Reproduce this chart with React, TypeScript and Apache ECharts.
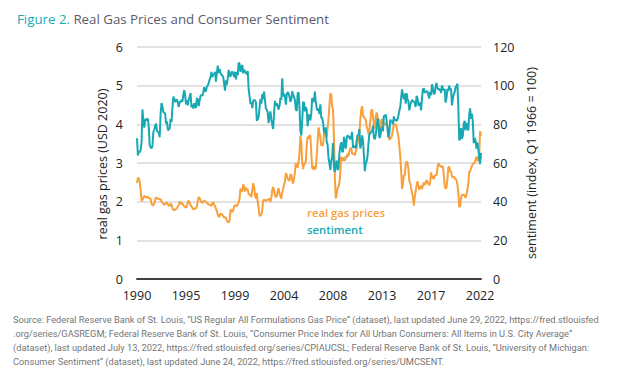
import React, { useEffect, useRef } from "react";
import * as echarts from "echarts";

// Monthly observations, September 1990 – April 2022
const startYear = 1990;
const startMonth = 9;

const xTickLabels = ["1990", "1995", "1999", "2004", "2008", "2013", "2017", "2022"];
const tickEvery = 54;

// real gas prices, USD 2020 per gallon
const gasPrice = [
  2.48, 2.62, 2.60, 2.52,
  2.30, 2.02, 2.05, 2.10, 2.15, 2.14, 2.10, 2.12, 2.12, 2.08, 2.10, 2.07,
  1.95, 1.91, 1.91, 1.94, 2.05, 2.11, 2.10, 2.07, 2.07, 2.06, 2.06, 2.01,
  1.97, 1.95, 1.92, 1.94, 1.97, 1.97, 1.93, 1.90, 1.88, 1.95, 1.92, 1.84,
  1.78, 1.80, 1.78, 1.81, 1.83, 1.88, 1.92, 2.00, 1.99, 1.94, 1.95, 1.92,
  1.88, 1.86, 1.85, 1.89, 1.99, 2.03, 1.97, 1.91, 1.88, 1.84, 1.80, 1.81,
  1.83, 1.82, 1.88, 2.02, 2.12, 2.09, 2.04, 1.98, 1.97, 1.98, 2.03, 2.01,
  1.99, 1.98, 1.94, 1.93, 1.92, 1.92, 1.88, 1.95, 1.99, 1.93, 1.88, 1.82,
  1.75, 1.67, 1.61, 1.62, 1.69, 1.69, 1.66, 1.62, 1.59, 1.60, 1.58, 1.51,
  1.48, 1.46, 1.50, 1.78, 1.79, 1.73, 1.78, 1.88, 1.91, 1.90, 1.88, 1.93,
  1.98, 2.08, 2.34, 2.28, 2.26, 2.45, 2.39, 2.26, 2.36, 2.32, 2.31, 2.20,
  2.18, 2.18, 2.12, 2.29, 2.48, 2.38, 2.16, 2.08, 2.22, 1.99, 1.85, 1.62,
  1.66, 1.65, 1.80, 2.03, 2.05, 2.02, 2.03, 2.04, 2.04, 2.07, 2.07, 1.99,
  2.10, 2.30, 2.38, 2.30, 2.16, 2.12, 2.14, 2.27, 2.35, 2.22, 2.14, 2.08,
  2.23, 2.33, 2.44, 2.53, 2.74, 2.68, 2.60, 2.56, 2.54, 2.70, 2.70, 2.55,
  2.47, 2.59, 2.75, 3.00, 2.93, 2.88, 3.03, 3.25, 3.70, 3.55, 3.02, 2.84,
  2.98, 2.97, 3.07, 3.48, 3.68, 3.63, 3.72, 3.70, 3.26, 2.88, 2.84, 2.92,
  2.84, 2.87, 3.20, 3.54, 3.92, 3.79, 3.67, 3.45, 3.47, 3.46, 3.78, 3.70,
  3.72, 3.68, 3.91, 4.15, 4.50, 4.80, 4.78, 4.46, 4.38, 3.63, 2.59, 2.08,
  2.20, 2.35, 2.38, 2.49, 2.74, 3.16, 3.05, 3.14, 3.07, 3.06, 3.18, 3.13,
  3.25, 3.17, 3.30, 3.38, 3.39, 3.24, 3.24, 3.24, 3.20, 3.30, 3.37, 3.53,
  3.64, 3.75, 4.12, 4.37, 4.47, 4.22, 4.18, 4.16, 4.12, 3.94, 3.87, 3.75,
  3.86, 4.07, 4.35, 4.39, 4.20, 3.99, 3.89, 4.18, 4.31, 4.20, 3.88, 3.71,
  3.73, 4.10, 4.14, 3.95, 4.01, 4.04, 3.99, 3.98, 3.95, 3.69, 3.60, 3.63,
  3.66, 3.71, 3.87, 3.99, 3.99, 4.01, 3.94, 3.79, 3.68, 3.45, 3.18, 2.81,
  2.33, 2.44, 2.69, 2.67, 2.96, 3.04, 3.01, 2.86, 2.54, 2.48, 2.35, 2.23,
  2.12, 1.90, 2.12, 2.27, 2.42, 2.53, 2.41, 2.31, 2.38, 2.41, 2.33, 2.41,
  2.50, 2.44, 2.46, 2.56, 2.52, 2.47, 2.42, 2.50, 2.76, 2.60, 2.66, 2.58,
  2.67, 2.69, 2.68, 2.86, 2.99, 2.96, 2.92, 2.90, 2.91, 2.92, 2.70, 2.42,
  2.33, 2.37, 2.58, 2.88, 2.91, 2.77, 2.79, 2.66, 2.62, 2.65, 2.61, 2.58,
  2.56, 2.44, 2.24, 1.86, 1.89, 2.09, 2.18, 2.18, 2.18, 2.15, 2.10, 2.19,
  2.30, 2.46, 2.78, 2.77, 2.87, 2.92, 2.98, 2.99, 3.00, 3.09, 3.17, 3.07,
  3.06, 3.22, 3.82, 3.70,
];

// consumer sentiment, index Q1 1966 = 100
const sentiment = [
  72.8, 63.9, 66.0, 65.5,
  66.8, 70.4, 87.7, 81.8, 78.3, 82.1, 82.9, 82.0, 83.0, 78.3, 69.1, 68.2,
  67.5, 68.8, 76.0, 77.2, 79.2, 80.4, 76.6, 76.1, 75.6, 73.3, 85.3, 91.0,
  89.3, 86.6, 85.9, 85.6, 80.3, 81.5, 77.0, 77.3, 77.9, 82.7, 81.2, 88.2,
  94.3, 93.2, 91.5, 92.6, 92.8, 91.2, 89.0, 91.7, 91.5, 92.7, 91.6, 95.1,
  97.6, 95.1, 90.3, 92.5, 89.8, 92.7, 94.4, 96.2, 88.9, 90.2, 88.2, 91.0,
  89.3, 88.5, 93.7, 92.7, 89.4, 92.4, 94.7, 95.3, 94.7, 96.5, 99.2, 96.9,
  97.4, 99.7, 100.0, 101.4, 103.2, 104.5, 107.1, 104.4, 106.0, 105.6, 107.2, 102.1,
  106.6, 110.4, 106.5, 108.7, 106.5, 105.6, 105.2, 104.4, 100.9, 97.4, 102.7, 100.5,
  103.9, 108.1, 105.7, 104.6, 106.8, 107.3, 106.0, 104.5, 107.2, 103.2, 107.2, 105.4,
  112.0, 111.3, 107.1, 109.2, 110.7, 106.4, 108.3, 107.3, 106.8, 105.8, 107.6, 98.4,
  94.7, 90.6, 91.5, 88.4, 92.0, 92.6, 92.4, 91.5, 81.8, 82.7, 83.9, 88.8,
  93.0, 90.7, 95.7, 93.0, 96.9, 92.4, 88.1, 87.6, 86.1, 80.6, 84.2, 86.7,
  82.4, 79.9, 77.6, 86.0, 92.1, 89.7, 90.9, 89.3, 87.7, 89.6, 93.7, 92.6,
  103.8, 94.4, 95.8, 94.2, 90.2, 95.6, 96.7, 95.9, 94.2, 91.7, 92.8, 97.1,
  95.5, 94.1, 92.6, 87.7, 86.9, 96.0, 96.5, 89.1, 76.9, 74.2, 81.6, 91.5,
  91.2, 86.7, 88.9, 87.4, 79.1, 84.9, 84.7, 82.0, 85.4, 93.6, 92.1, 91.7,
  96.9, 91.3, 88.4, 87.1, 88.3, 85.3, 90.4, 83.4, 83.4, 80.9, 76.1, 75.5,
  78.4, 70.8, 69.5, 62.6, 59.8, 56.4, 61.2, 63.0, 70.3, 57.6, 55.3, 60.1,
  61.2, 56.3, 57.3, 65.1, 68.7, 70.8, 66.0, 65.7, 73.5, 70.6, 67.4, 72.5,
  74.4, 73.6, 73.6, 72.2, 73.6, 76.0, 67.8, 68.9, 68.2, 67.7, 71.6, 74.5,
  74.2, 77.5, 67.5, 69.8, 74.3, 71.5, 63.7, 55.8, 59.5, 60.8, 63.7, 69.9,
  75.0, 75.3, 76.2, 76.4, 79.3, 73.2, 72.3, 74.3, 78.3, 82.6, 82.7, 72.9,
  73.8, 77.6, 78.6, 76.4, 84.5, 84.1, 85.1, 82.1, 77.5, 73.2, 75.1, 82.5,
  81.2, 81.6, 80.0, 84.1, 81.9, 82.5, 81.8, 82.5, 84.6, 86.9, 88.8, 93.6,
  98.1, 95.4, 93.0, 95.9, 90.7, 96.1, 93.1, 91.9, 87.2, 90.0, 91.3, 92.6,
  92.0, 91.7, 91.0, 89.0, 94.7, 93.5, 90.0, 89.8, 91.2, 87.2, 93.8, 98.2,
  98.5, 96.3, 96.9, 97.0, 97.1, 95.1, 93.4, 96.8, 95.1, 100.7, 98.5, 95.9,
  95.7, 99.7, 101.4, 98.8, 98.0, 98.2, 97.9, 96.2, 100.1, 98.6, 97.5, 98.3,
  91.2, 93.8, 98.4, 97.2, 100.0, 98.2, 98.4, 89.8, 93.2, 95.5, 96.8, 99.3,
  99.8, 101.0, 89.1, 71.8, 72.3, 78.1, 72.5, 74.1, 80.4, 81.8, 76.9, 80.7,
  79.0, 76.8, 84.9, 88.3, 82.9, 85.5, 81.2, 70.3, 72.8, 71.7, 67.4, 70.6,
  67.2, 62.8, 59.4, 65.2,
];

const titleNumber = "Figure 2.";
const titleText = "Real Gas Prices and Consumer Sentiment";
const leftAxisName = "real gas prices (USD 2020)";
const rightAxisName = "sentiment (index, Q1 1966 = 100)";
const gasLabel = "real gas prices";
const sentLabel = "sentiment";
const sourceLines = [
  "Source: Federal Reserve Bank of St. Louis, \u201cUS Regular All Formulations Gas Price\u201d (dataset), last updated June 29, 2022, https://fred.stlouisfed",
  ".org/series/GASREGM; Federal Reserve Bank of St. Louis, \u201cConsumer Price Index for All Urban Consumers: All Items in U.S. City Average\u201d",
  "(dataset), last updated July 13, 2022, https://fred.stlouisfed.org/series/CPIAUCSL; Federal Reserve Bank of St. Louis, \u201cUniversity of Michigan:",
  "Consumer Sentiment\u201d (dataset), last updated June 24, 2022, https://fred.stlouisfed.org/series/UMCSENT.",
];

const ORANGE = "#F8A03C";
const TEAL = "#17A8B4";
const FONT = "'Open Sans', 'Noto Sans', sans-serif";

const months: string[] = gasPrice.map((_, i) => {
  const m = startMonth - 1 + i;
  const y = startYear + Math.floor(m / 12);
  const mm = (m % 12) + 1;
  return `${y}-${mm < 10 ? "0" + mm : mm}`;
});

export default function App() {
  const ref = useRef<HTMLDivElement>(null);
  useEffect(() => {
    if (!ref.current) return;
    const chart = echarts.init(ref.current, null, { renderer: "svg" });
    chart.setOption({
      animation: false,
      backgroundColor: "#ffffff",
      grid: { left: 137, right: 143, top: 47, bottom: 89 },
      xAxis: {
        type: "category",
        data: months,
        boundaryGap: false,
        axisLine: { show: true, lineStyle: { color: "#404040", width: 2 } },
        axisTick: { show: false },
        axisLabel: {
          interval: (index: number) => index % tickEvery === 0,
          formatter: (_v: string, index: number) => xTickLabels[Math.round(index / tickEvery)] ?? "",
          color: "#222222",
          fontFamily: FONT,
          fontSize: 12.5,
          margin: 10,
        },
        splitLine: { show: false },
      },
      yAxis: [
        {
          type: "value",
          min: 0,
          max: 6,
          interval: 1,
          axisLine: { show: false },
          axisTick: { show: false },
          axisLabel: { color: "#222222", fontFamily: FONT, fontSize: 12.5, margin: 14 },
          splitLine: { show: true, lineStyle: { color: "#d9d9d9", width: 1.5 } },
        },
        {
          type: "value",
          min: 0,
          max: 120,
          interval: 20,
          position: "right",
          axisLine: { show: false },
          axisTick: { show: false },
          axisLabel: { color: "#222222", fontFamily: FONT, fontSize: 12.5, margin: 12 },
          splitLine: { show: false },
        },
      ],
      series: [
        {
          name: gasLabel,
          type: "line",
          yAxisIndex: 0,
          data: gasPrice,
          showSymbol: false,
          lineStyle: { color: ORANGE, width: 2 },
          itemStyle: { color: ORANGE },
          z: 2,
        },
        {
          name: sentLabel,
          type: "line",
          yAxisIndex: 1,
          data: sentiment,
          showSymbol: false,
          lineStyle: { color: TEAL, width: 2 },
          itemStyle: { color: TEAL },
          z: 3,
        },
      ],
      graphic: [
        {
          type: "text",
          left: 17,
          top: 12,
          style: {
            text: `{a|${titleNumber}} {b|${titleText}}`,
            rich: {
              a: { fill: "#1AA9B5", fontSize: 13.3, fontFamily: FONT },
              b: { fill: "#5A5B6B", fontSize: 13.3, fontFamily: FONT },
            },
          },
        },
        {
          type: "text",
          x: 102,
          y: 164,
          rotation: Math.PI / 2,
          style: {
            text: leftAxisName,
            fill: "#222222",
            fontSize: 12.5,
            fontFamily: FONT,
            textAlign: "center",
            textVerticalAlign: "middle",
          },
        },
        {
          type: "text",
          x: 531,
          y: 163,
          rotation: Math.PI / 2,
          style: {
            text: rightAxisName,
            fill: "#222222",
            fontSize: 12.5,
            fontFamily: FONT,
            textAlign: "center",
            textVerticalAlign: "middle",
          },
        },
        {
          type: "text",
          x: 307,
          y: 212,
          style: {
            text: gasLabel,
            fill: ORANGE,
            fontSize: 11.3,
            fontWeight: 600,
            fontFamily: FONT,
            textVerticalAlign: "middle",
          },
        },
        {
          type: "text",
          x: 307,
          y: 229,
          style: {
            text: sentLabel,
            fill: TEAL,
            fontSize: 11.3,
            fontWeight: 600,
            fontFamily: FONT,
            textVerticalAlign: "middle",
          },
        },
        {
          type: "text",
          x: 13,
          y: 312,
          style: {
            text: sourceLines.join("\n"),
            fill: "#767676",
            fontSize: 9.25,
            lineHeight: 14,
            fontFamily: "Roboto, sans-serif",
          },
        },
      ],
    });
    return () => chart.dispose();
  }, []);
  return (
    <div
      ref={ref}
      style={{ position: "fixed", left: 0, top: 0, width: 624, height: 368 }}
    />
  );
}
